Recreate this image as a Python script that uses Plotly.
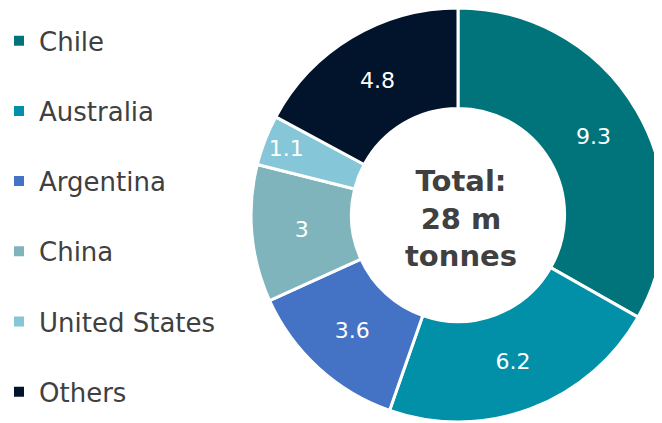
import plotly.graph_objects as go

categories = ["Chile", "Australia", "Argentina", "China", "United States", "Others"]
values = [9.3, 6.2, 3.6, 3, 1.1, 4.8]
colors = ["#01747B", "#028FA8", "#4472C4", "#7FB4BC", "#85C6D8", "#01142C"]
center_text = "Total:<br>28 m<br>tonnes"

fig = go.Figure()
fig.add_trace(go.Pie(
    labels=categories, values=values, sort=False, direction="clockwise", rotation=0,
    hole=0.515, marker=dict(colors=colors, line=dict(color="white", width=3)),
    textinfo="value", textposition="inside", insidetextorientation="horizontal",
    textfont=dict(family="DejaVu Sans", size=22, color="white"),
    domain=dict(x=[0.3671, 0.9924], y=[0.0213, 1]), showlegend=False,
))
for i, (c, col) in enumerate(zip(categories, colors)):
    fig.add_trace(go.Scatter(
        x=[None], y=[None], mode="markers", name=c, legendgroup=f"g{i}",
        marker=dict(symbol="square", size=10, color=col), showlegend=True,
    ))

fig.add_annotation(text=center_text, x=0.685, y=0.5035, xref="paper", yref="paper",
                   xanchor="center", yanchor="middle",
                   showarrow=False, font=dict(family="DejaVu Sans", size=29, color="#404040", weight="bold"))

fig.update_layout(
    width=662, height=423, margin=dict(l=0, r=0, t=0, b=0),
    paper_bgcolor="white", plot_bgcolor="white",
    xaxis=dict(visible=False), yaxis=dict(visible=False),
    uniformtext=dict(minsize=22, mode="show"),
    legend=dict(x=0, y=0.978, xanchor="left", yanchor="top", tracegroupgap=33.4,
                indentation=-9,
                font=dict(family="DejaVu Sans", size=26, color="#404040"),
                traceorder="grouped", itemclick=False),
)
fig.write_html("out.html")
